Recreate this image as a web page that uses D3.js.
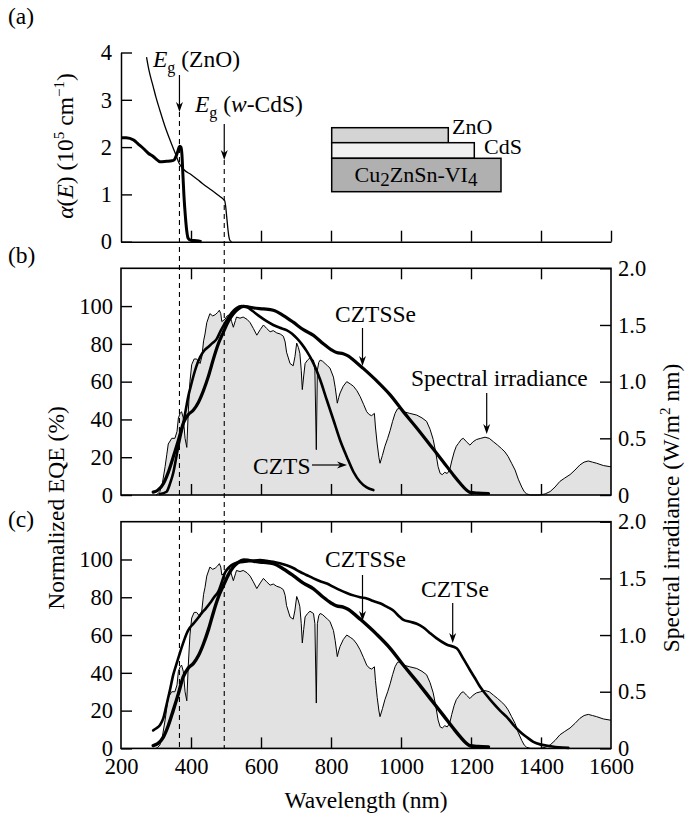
<!DOCTYPE html>
<html><head><meta charset="utf-8">
<script src="https://cdn.jsdelivr.net/npm/d3@7"></script>
<style>
body{margin:0;background:#fff}
svg text{font-family:"Liberation Serif","Times New Roman",Tinos,serif;fill:#000}
</style>
</head><body>
<svg id="chart" width="685" height="815" font-family="Liberation Serif, serif"></svg>
<script>
// ---------- data ----------
const wlTicks = [200,400,600,800,1000,1200,1400,1600];
const wlInner = [400,600,800,1000,1200,1400];
const eqeTicks = [0,20,40,60,80,100];
const irrTicks = [0,0.5,1.0,1.5,2.0];
const irrTickLabels = ["0","0.5","1.0","1.5","2.0"];
const alphaTicks = [0,1,2,3,4];
const gapZnO = 367, gapCdS = 495;   // band-gap wavelengths (nm)

// (a) absorption coefficients, 10^5 cm^-1
const absZnO = [[200,2.2],[215,2.2],[236,2.15],[250,2.06],[264,1.97],[278,1.87],[292,1.8],[305,1.72],[311,1.69],[330,1.7],[345,1.71],[352,1.73],[357,1.8],[363,1.93],[368,2.02],[371,2.0],[374,1.85],[377,1.4],[380,0.95],[384,0.53],[388,0.22],[392,0.07],[400,0.03],[416,0.02],[430,0]];
const absCdS = [[273,3.9],[280,3.62],[292,3.28],[300,3.05],[311,2.78],[326,2.43],[340,2.15],[355,1.87],[366,1.66],[380,1.52],[400,1.42],[426,1.27],[445,1.16],[464,1.06],[480,0.97],[492,0.9],[496,0.87],[499,0.75],[502,0.53],[505,0.3],[508,0.12],[511,0.03],[516,0]];

// spectral irradiance, W/(m^2 nm)
const irradiance = [[300,0],[305,0.01],[311,0.03],[318,0.1],[326,0.25],[331,0.36],[335,0.45],[345,0.5],[354,0.5],[360,0.56],[364,0.68],[369,0.72],[373,0.735],[378,0.68],[383,0.5],[388,0.42],[392,0.72],[397,1.0],[402,1.15],[409,1.2],[416,1.2],[426,1.16],[431,1.22],[436,1.36],[440,1.42],[445,1.52],[454,1.6],[462,1.58],[469,1.59],[476,1.61],[481,1.63],[485,1.6],[488,1.53],[497,1.55],[503,1.58],[510,1.59],[516,1.53],[521,1.48],[527,1.54],[530,1.57],[540,1.56],[549,1.57],[560,1.55],[569,1.52],[578,1.47],[588,1.41],[598,1.46],[607,1.5],[616,1.47],[626,1.44],[635,1.45],[645,1.43],[655,1.42],[664,1.4],[669,1.35],[673,1.26],[683,1.16],[692,1.14],[697,1.22],[702,1.34],[707,1.3],[711,1.25],[715,1.1],[718,0.93],[722,1.05],[726,1.16],[733,1.19],[740,1.21],[750,1.19],[754,1.1],[758,0.4],[761,1.1],[765,1.17],[769,1.19],[776,1.18],[783,1.16],[790,1.14],[797,1.12],[807,1.04],[812,0.95],[818,0.81],[822,0.86],[826,0.9],[835,0.96],[845,1.0],[855,0.98],[864,0.96],[874,0.92],[883,0.87],[893,0.8],[902,0.735],[909,0.71],[916,0.7],[924,0.72],[927,0.6],[932,0.45],[937,0.33],[940,0.28],[947,0.35],[954,0.43],[962,0.5],[969,0.57],[976,0.65],[983,0.72],[990,0.76],[1000,0.765],[1007,0.735],[1025,0.72],[1045,0.705],[1060,0.68],[1073,0.65],[1083,0.58],[1092,0.49],[1099,0.38],[1106,0.25],[1112,0.19],[1118,0.18],[1125,0.2],[1132,0.19],[1139,0.22],[1145,0.3],[1152,0.38],[1158,0.43],[1164,0.455],[1172,0.49],[1178,0.5],[1187,0.47],[1197,0.44],[1206,0.47],[1216,0.49],[1228,0.5],[1240,0.51],[1252,0.5],[1264,0.47],[1276,0.44],[1287,0.41],[1297,0.38],[1306,0.34],[1316,0.28],[1326,0.22],[1335,0.14],[1345,0.07],[1352,0.03],[1359,0.01],[1370,0],[1397,0],[1412,0.01],[1426,0.03],[1440,0.07],[1454,0.12],[1468,0.15],[1483,0.18],[1497,0.22],[1511,0.265],[1523,0.29],[1535,0.3],[1547,0.29],[1559,0.28],[1578,0.26],[1597,0.25],[1600,0.25]];

// normalized EQE (%)
const eqeCZTS = [[311,0.5],[330,1.7],[340,6],[349,11.5],[357,19],[364,26],[371,32],[378,38],[385,45],[392,52],[400,58],[407,63],[416,68.5],[426,73],[438,76.5],[450,78.5],[462,80.5],[473,82.5],[485,87],[497,91],[507,94],[516,96.5],[530,99],[545,100],[560,99.5],[575,97.5],[597,94.4],[616,92],[635,90],[654,88.5],[673,87.3],[688,85.5],[702,83],[716,80],[731,76],[750,69.7],[769,61],[788,50.3],[807,39.7],[826,29],[845,20.3],[864,12.3],[883,7],[902,4],[921,2.6]];
const eqeCZTSSe = [[292,1.5],[305,2.5],[321,6],[335,12],[349,20],[364,29],[378,38],[392,42.5],[407,45],[421,49],[435,55],[450,63],[464,72],[478,80],[492,86],[507,92],[521,96],[535,98.5],[550,99.8],[565,99.5],[580,99],[607,98.5],[635,97.8],[664,95],[692,91.5],[721,87.5],[750,84.5],[778,80],[800,77],[816,75.4],[835,74.8],[850,73.5],[864,71.5],[892,67],[930,60.5],[969,53],[1007,44],[1045,35.5],[1083,26.5],[1121,17.5],[1150,10.5],[1169,6.2],[1185,3],[1197,1.4],[1220,1],[1250,0.8]];
const eqeCZTSe = [[292,9.5],[300,10.5],[311,12.3],[321,16],[330,23],[340,31],[349,38.8],[359,45],[369,51],[378,56],[388,61],[397,64],[407,66],[420,69],[430,71.5],[442,74],[454,76.8],[466,80],[478,83],[488,88],[497,93],[507,95.5],[516,97],[530,98.3],[549,98.7],[575,99.3],[597,99.7],[616,99.3],[635,98.8],[654,98],[673,97],[692,95.5],[711,93.5],[730,91.8],[750,90],[769,88.5],[788,87.3],[807,85.5],[826,83.8],[845,82.3],[864,81],[883,80],[902,79.4],[921,78],[940,76.8],[959,75],[978,73],[997,69.5],[1007,68],[1026,67],[1045,66],[1064,64],[1083,61],[1100,58.5],[1130,55],[1159,53],[1178,47.5],[1197,41.5],[1212,37],[1226,32.6],[1245,28],[1264,23.8],[1283,20],[1302,16.7],[1321,12.5],[1340,8.8],[1359,6],[1378,3.5],[1400,2],[1426,1.2],[1450,0.6],[1478,0.3]];

const layers = [
  {name:"ZnO",  fill:"#d4d4d4"},
  {name:"CdS",  fill:"#f0f0f0"},
  {name:"CZTS", fill:"#b0b0b0"}
];

// ---------- drawing ----------
const svg = d3.select("#chart");
const FONT = '"Liberation Serif","Times New Roman",Tinos,serif';
const x = d3.scaleLinear().domain([200,1600]).range([121,611]);
const ya = d3.scaleLinear().domain([0,4]).range([241.7,52.5]);
const H = 226.7;
const panelTops = [268.3, 521.7];

function styleAxis(g, size){
  g.attr("font-family", FONT).attr("font-size", size);
  g.selectAll("line").attr("stroke","#000").attr("stroke-width",1.4);
  g.selectAll("path.domain").attr("stroke","#000").attr("stroke-width",1.5);
  g.selectAll("text").attr("fill","#000");
}

function arrowDown(xp, y1, y2){
  svg.append("line").attr("x1",xp).attr("x2",xp).attr("y1",y1).attr("y2",y2-6)
    .attr("stroke","#000").attr("stroke-width",1.2);
  svg.append("path").attr("d",`M${xp-3.5},${y2-10}L${xp},${y2}L${xp+3.5},${y2-10}L${xp},${y2-7}Z`).attr("fill","#000");
}
function arrowRight(x1, x2, yp){
  svg.append("line").attr("x1",x1).attr("x2",x2-6).attr("y1",yp).attr("y2",yp)
    .attr("stroke","#000").attr("stroke-width",1.2);
  svg.append("path").attr("d",`M${x2-10},${yp-3.5}L${x2},${yp}L${x2-10},${yp+3.5}L${x2-7},${yp}Z`).attr("fill","#000");
}

// ----- panel (a) -----
const lineA = d3.line().x(d=>x(d[0])).y(d=>ya(d[1])).curve(d3.curveMonotoneX);
svg.append("path").datum(absCdS).attr("d",lineA).attr("fill","none").attr("stroke","#000").attr("stroke-width",1.3);
svg.append("path").datum(absZnO).attr("d",lineA).attr("fill","none").attr("stroke","#000").attr("stroke-width",3);

const aLeft = svg.append("g").attr("transform",`translate(${x(200)},0)`)
  .call(d3.axisLeft(ya).tickValues(alphaTicks).tickSizeInner(-11).tickSizeOuter(0).tickPadding(9).tickFormat(d3.format("d")));
styleAxis(aLeft, 22.5);
const aBottom = svg.append("g").attr("transform",`translate(0,${ya(0)})`)
  .call(d3.axisBottom(x).tickValues([400,600,800,1000,1200,1400,1600]).tickSizeInner(-11).tickSizeOuter(0).tickFormat(""));
styleAxis(aBottom, 22.5);

// y label (a)
const aLab = svg.append("text").attr("transform","translate(73,146) rotate(-90)")
  .attr("text-anchor","middle").attr("font-size",23.5);
aLab.append("tspan").attr("font-style","italic").text("α");
aLab.append("tspan").text("(");
aLab.append("tspan").attr("font-style","italic").text("E");
aLab.append("tspan").text(") (10");
aLab.append("tspan").attr("font-size",15).attr("dy",-9).text("5");
aLab.append("tspan").attr("dy",9).text(" cm");
aLab.append("tspan").attr("font-size",15).attr("dy",-9).text("−1");
aLab.append("tspan").attr("dy",9).text(")");

// band-gap labels + arrows
function egLabel(xp, yb, parts){
  const t = svg.append("text").attr("x",xp).attr("y",yb).attr("font-size",23.5);
  t.append("tspan").attr("font-style","italic").text("E");
  t.append("tspan").attr("font-size",16).attr("dy",6).text("g");
  t.append("tspan").attr("dy",-6).text(" (");
  parts.forEach(p=>t.append("tspan").attr("font-style",p[1]?"italic":"normal").text(p[0]));
  t.append("tspan").text(")");
}
egLabel(153, 67, [["ZnO",false]]);
egLabel(195, 112, [["w",true],["-CdS",false]]);
arrowDown(x(gapZnO), 75, 112);
arrowDown(x(gapCdS), 124, 160);

// layer stack schematic
const stack = [
  {x:331.7, y:127.7, w:116.6, h:15,   fill:layers[0].fill},
  {x:331.7, y:142.7, w:142.6, h:15.6, fill:layers[1].fill},
  {x:331.7, y:158.3, w:169.3, h:33.4, fill:layers[2].fill}
];
svg.selectAll("rect.layer").data(stack).enter().append("rect").attr("class","layer")
  .attr("x",d=>d.x).attr("y",d=>d.y).attr("width",d=>d.w).attr("height",d=>d.h)
  .attr("fill",d=>d.fill).attr("stroke","#000").attr("stroke-width",1.5);
svg.append("text").attr("x",452).attr("y",134).attr("font-size",22).text(layers[0].name);
svg.append("text").attr("x",484).attr("y",154).attr("font-size",22).text(layers[1].name);
const cz = svg.append("text").attr("x",416).attr("y",182).attr("text-anchor","middle").attr("font-size",22);
cz.append("tspan").text("Cu");
cz.append("tspan").attr("font-size",19).attr("dy",4).text("2");
cz.append("tspan").attr("dy",-4).text("ZnSn-VI");
cz.append("tspan").attr("font-size",19).attr("dy",4).text("4");

// ----- panels (b), (c) -----
function panel(top, series, withLabels){
  const yL = d3.scaleLinear().domain([0,120]).range([top+H, top]);
  const yR = d3.scaleLinear().domain([0,2]).range([top+H, top]);
  svg.append("path").datum(irradiance)
    .attr("d", d3.area().x(d=>x(d[0])).y0(yR(0)).y1(d=>yR(d[1])))
    .attr("fill","#e2e2e2");
  svg.append("path").datum(irradiance)
    .attr("d", d3.line().x(d=>x(d[0])).y(d=>yR(d[1])))
    .attr("fill","none").attr("stroke","#000").attr("stroke-width",1);
  const le = d3.line().x(d=>x(d[0])).y(d=>yL(d[1])).curve(d3.curveMonotoneX);
  series.forEach(s=>{
    svg.append("path").datum(s.data).attr("d",le).attr("fill","none")
      .attr("stroke","#000").attr("stroke-width",s.w).attr("stroke-linejoin","round").attr("stroke-linecap","round");
  });
  // frame
  svg.append("rect").attr("x",x(200)).attr("y",top).attr("width",x(1600)-x(200)).attr("height",H)
    .attr("fill","none").attr("stroke","#000").attr("stroke-width",1.6);
  const gB = svg.append("g").attr("transform",`translate(0,${top+H})`)
    .call(d3.axisBottom(x).tickValues(wlInner).tickSizeInner(-11).tickSizeOuter(0).tickFormat(""));
  gB.select(".domain").remove(); styleAxis(gB,22.5);
  const gT = svg.append("g").attr("transform",`translate(0,${top})`)
    .call(d3.axisTop(x).tickValues(wlInner).tickSizeInner(-11).tickSizeOuter(0).tickFormat(""));
  gT.select(".domain").remove(); styleAxis(gT,22.5);
  const gL = svg.append("g").attr("transform",`translate(${x(200)},0)`)
    .call(d3.axisLeft(yL).tickValues(eqeTicks).tickSizeInner(-11).tickSizeOuter(0).tickPadding(8).tickFormat(d3.format("d")));
  gL.select(".domain").remove(); styleAxis(gL,22.5);
  const gR = svg.append("g").attr("transform",`translate(${x(1600)},0)`)
    .call(d3.axisRight(yR).tickValues(irrTicks).tickSizeInner(-11).tickSizeOuter(0).tickPadding(7).tickFormat((d,i)=>irrTickLabels[i]));
  gR.select(".domain").remove(); styleAxis(gR,22.5);
  if(withLabels){
    const gX = svg.append("g").attr("transform",`translate(0,${top+H})`)
      .call(d3.axisBottom(x).tickValues(wlTicks).tickSize(0).tickPadding(10).tickFormat(d3.format("d")));
    gX.select(".domain").remove(); styleAxis(gX,22.5);
  }
  return {yL, yR};
}

const pb = panel(panelTops[0], [{data:eqeCZTS,w:2.6},{data:eqeCZTSSe,w:3.2}], false);
const pc = panel(panelTops[1], [{data:eqeCZTSe,w:2.6},{data:eqeCZTSSe,w:3.4}], true);

// dashed band-gap lines
[[gapZnO,112],[gapCdS,160]].forEach(d=>{
  svg.append("line").attr("x1",x(d[0])).attr("x2",x(d[0])).attr("y1",d[1]).attr("y2",panelTops[1]+H)
    .attr("stroke","#000").attr("stroke-width",1.1).attr("stroke-dasharray","5,4");
});

// annotations (b)
svg.append("text").attr("x",335).attr("y",322).attr("font-size",23.5).text("CZTSSe");
arrowDown(362.5, 328, 366);
svg.append("text").attr("x",411).attr("y",386).attr("font-size",23.5).text("Spectral irradiance");
arrowDown(486.7, 393, 434);
svg.append("text").attr("x",253).attr("y",474).attr("font-size",23.5).text("CZTS");
arrowRight(312, 347, 465);
// annotations (c)
svg.append("text").attr("x",325).attr("y",567).attr("font-size",23.5).text("CZTSSe");
arrowDown(362.5, 575, 621);
svg.append("text").attr("x",421).attr("y",597).attr("font-size",23.5).text("CZTSe");
arrowDown(452.7, 603, 643);

// axis titles
svg.append("text").attr("x",366).attr("y",808).attr("text-anchor","middle").attr("font-size",23.5).text("Wavelength (nm)");
svg.append("text").attr("transform","translate(64,508) rotate(-90)").attr("text-anchor","middle")
  .attr("font-size",23.5).text("Normalized EQE (%)");
const rl = svg.append("text").attr("transform","translate(679,508) rotate(-90)").attr("text-anchor","middle").attr("font-size",23.5);
rl.append("tspan").text("Spectral irradiance (W/m");
rl.append("tspan").attr("font-size",15).attr("dy",-9).text("2");
rl.append("tspan").attr("dy",9).text(" nm)");

// panel letters
svg.append("text").attr("x",8).attr("y",24).attr("font-size",23.5).text("(a)");
svg.append("text").attr("x",8).attr("y",263).attr("font-size",23.5).text("(b)");
svg.append("text").attr("x",8).attr("y",527).attr("font-size",23.5).text("(c)");
</script>
</body></html>
